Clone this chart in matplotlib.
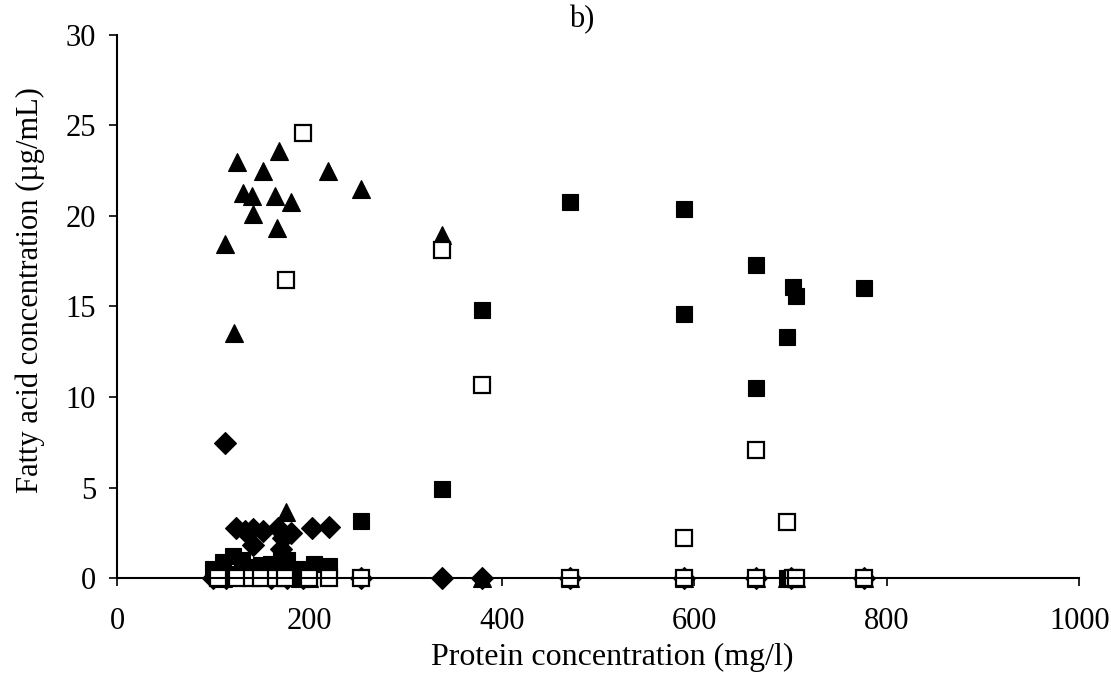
import matplotlib.pyplot as plt

# fatty acid concentration vs protein concentration, four series
dia_x = [112, 124, 133, 141.5, 152, 167, 172, 181, 203, 220, 141, 170,
         100, 113, 160, 177, 193, 254, 338, 379, 471, 589, 664, 700, 776]
dia_y = [7.45, 2.75, 2.6, 2.7, 2.6, 2.75, 2.2, 2.5, 2.75, 2.83, 1.8, 1.6,
         0, 0, 0, 0, 0, 0, 0, 0, 0, 0, 0, 0, 0]

sq_x = [100, 104, 110, 121, 130, 140, 150, 160, 170, 177, 190, 205, 220, 115, 180,
        254, 338, 379, 471, 589, 589, 664, 664, 696, 702, 705, 776,
        471, 589, 664, 696, 702, 705, 776]
sq_y = [0.5, 0.3, 0.9, 1.2, 1.0, 0.6, 0.7, 0.8, 1.3, 1.0, 0.5, 0.75, 0.65, 0.2, 0.3,
        3.15, 4.9, 14.8, 20.8, 20.4, 14.6, 17.3, 10.5, 13.3, 16.1, 15.6, 16.0,
        0, 0, 0, 0, 0, 0, 0]

tri_x = [112, 121.5, 125, 131, 140.6, 141.6, 151.4, 164, 166, 168.6, 181, 219, 176,
         254, 338, 110, 190, 200, 379, 471, 589, 664, 696, 702, 705, 776]
tri_y = [18.45, 13.55, 23.0, 21.25, 21.1, 20.1, 22.5, 21.1, 19.35, 23.6, 20.8, 22.5, 3.66,
         21.5, 18.95, 0, 0, 0, 0, 0, 0, 0, 0, 0, 0, 0]

open_x = [193, 176, 338, 379, 589, 664, 696,
          105, 125, 140, 150, 165, 175, 200, 220, 254, 471, 589, 664, 702, 705, 776]
open_y = [24.6, 16.46, 18.1, 10.66, 2.2, 7.07, 3.1,
          0, 0, 0, 0, 0, 0, 0, 0, 0, 0, 0, 0, 0, 0, 0]

plt.rcParams['font.family'] = ['Liberation Serif', 'DejaVu Serif']

fig = plt.figure(figsize=(11.11, 6.9), dpi=100)
ax = fig.add_axes([0.1053, 0.1623, 0.8663, 0.787])

ax.plot(dia_x, dia_y, 'D', color='black', markersize=11.5, markeredgewidth=0.8, linestyle='none', clip_on=False)
ax.plot(sq_x, sq_y, 's', color='black', markersize=12, markeredgewidth=0.8, linestyle='none', clip_on=False)
ax.plot(tri_x, tri_y, '^', color='black', markersize=13, markeredgewidth=0.8, linestyle='none', clip_on=False)
ax.plot(open_x, open_y, 's', markerfacecolor='white', markeredgecolor='black', markersize=11.5,
        markeredgewidth=1.6, linestyle='none', clip_on=False)

ax.set_xlim(0, 1000)
ax.set_ylim(0, 30)
ax.set_xticks([0, 200, 400, 600, 800, 1000])
ax.set_yticks([0, 5, 10, 15, 20, 25, 30])
ax.spines['top'].set_visible(False)
ax.spines['right'].set_visible(False)
ax.spines['left'].set_linewidth(1.5)
ax.spines['bottom'].set_linewidth(1.5)
ax.tick_params(axis='x', direction='out', length=6, width=1.2, pad=15, labelsize=22)
ax.tick_params(axis='y', direction='out', length=6, width=1.2, pad=9, labelsize=22)

ax.set_xlabel('Protein concentration (mg/l)', fontsize=23)
ax.xaxis.set_label_coords(0.515, -0.12)
ax.set_ylabel('Fatty acid concentration (\u00b5g/mL)', fontsize=22)
ax.yaxis.set_label_coords(-0.075, 0.53)
fig.text(0.524, 0.972, 'b)', fontsize=22, ha='center', va='center')

plt.savefig('out.png', dpi=100)
